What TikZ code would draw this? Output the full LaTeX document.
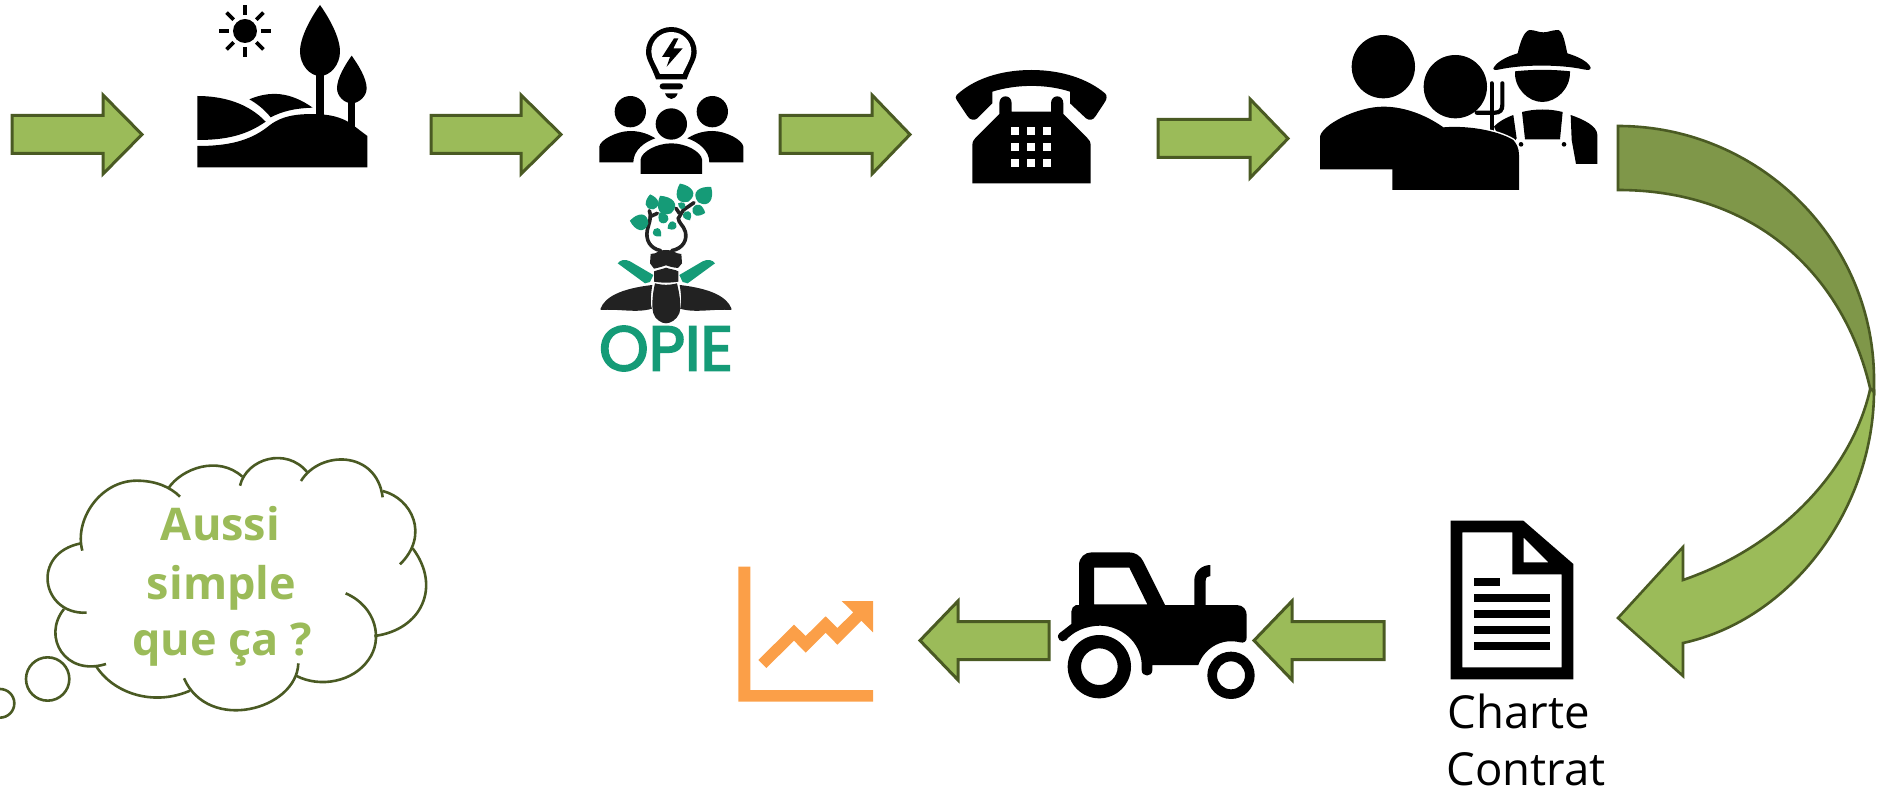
\documentclass[tikz,border=0pt]{standalone}
\usepackage{fontspec}
\setmainfont{Open Sans}
\newfontfamily\opiefont[RawFeature={embolden=3}]{Poppins}
\definecolor{agreen}{HTML}{9BBB59}
\definecolor{adark}{HTML}{7F9749}
\definecolor{aline}{HTML}{4A5A23}
\definecolor{opiegreen}{HTML}{159B77}
\definecolor{beetle}{HTML}{222222}
\definecolor{chartorange}{HTML}{FB9F48}
\tikzset{
  zoomed/.style={shift={#1},x=.33333pt,y=-.33333pt},
  blockarrow/.style={fill=agreen,draw=aline,line width=3pt,line join=miter},
  cloudline/.style={draw=aline,line width=2.6pt},
  cloudtext/.style={text=agreen,font=\bfseries\fontsize{45}{45}\selectfont,anchor=base},
  captiontext/.style={text=black,font=\fontsize{45.5}{45.5}\selectfont,anchor=base},
  ink/.style={fill=black},
  leaffill/.style={fill=opiegreen},
  beetlefill/.style={fill=beetle},
  antler/.style={draw=beetle,line width=3.6pt,line cap=round}
}
\newcommand{\rblock}[4]{\draw[blockarrow] (#1,#4-19) -- (#2,#4-19) -- (#2,#4-39.5) -- (#3,#4) -- (#2,#4+39.5) -- (#2,#4+19) -- (#1,#4+19) -- cycle;}
\newcommand{\myleaf}[4]{\fill[leaffill,shift={(#1,#2)},rotate=#3,x=#4*.33333pt,y=#4*.33333pt] (0,0) .. controls (.12,-.62) and (.65,-.5) .. (1,0) .. controls (.65,.5) and (.12,.62) .. (0,0) -- cycle;}
\begin{document}
\begin{tikzpicture}[x=1pt,y=-1pt]
\useasboundingbox (0,0) rectangle (1886,791);
\clip (0,0) rectangle (1886,791);

% straight block arrows
\rblock{12}{103}{142}{134.5}
\rblock{431}{521}{561}{134.5}
\rblock{780}{872}{910}{134.5}
\rblock{1158}{1250}{1288}{138.5}
\rblock{1384}{1292}{1254}{640.5}
\rblock{1049}{958}{920}{640.5}

% big curved arrow
\draw[blockarrow,line width=2.6pt] (1871,385) .. controls (1855,465) and (1785,545) .. (1683,580) -- (1683,547) -- (1618,618) -- (1683,676) -- (1683,643) .. controls (1790,620) and (1874,510) .. (1874,390) -- cycle;
\draw[blockarrow,fill=adark,line width=2.6pt] (1618,126) .. controls (1759,126) and (1874,240) .. (1874,380) -- (1874,392) -- (1870,388) .. controls (1845,280) and (1760,190) .. (1618,190) -- cycle;

% landscape
\begin{scope}[zoomed={(0,0)}]
\fill[ink] (735,93) circle[radius=36];
\foreach \a in {0,45,...,315}{\draw[black,line width=3.7pt,shift={(735,93)},rotate=\a] (48,0) -- (78,0);}
\fill[ink] (960,15) .. controls (985,50) and (1020,110) .. (1020,155) .. controls (1020,195) and (990,228) .. (960,228) .. controls (930,228) and (900,195) .. (900,155) .. controls (900,110) and (935,50) .. (960,15) -- cycle;
\fill[ink] (948,220) rectangle (972,350);
\fill[ink] (1055,167) .. controls (1075,195) and (1100,235) .. (1100,265) .. controls (1100,290) and (1075,310) .. (1055,310) .. controls (1035,310) and (1011,290) .. (1011,265) .. controls (1011,235) and (1035,195) .. (1055,167) -- cycle;
\fill[ink] (1044,300) rectangle (1066,385);
\fill[ink] (592,288) .. controls (670,288) and (745,310) .. (797,365) .. controls (740,405) and (680,420) .. (592,420) -- cycle;
\fill[ink] (748,298) .. controls (810,272) and (870,275) .. (938,323) .. controls (880,325) and (845,335) .. (812,352) .. controls (795,330) and (770,310) .. (748,298) -- cycle;
\fill[ink] (592,438) .. controls (680,438) and (750,425) .. (810,375) .. controls (850,345) and (900,340) .. (960,343) .. controls (1000,345) and (1035,355) .. (1065,380) -- (1102,408) -- (1102,502) -- (592,502) -- cycle;
\end{scope}

% people with bulb
\begin{scope}[zoomed={(570,0)}]
\fill[ink] (304,81) .. controls (345,81) and (380,115) .. (380,155) .. controls (380,180) and (365,195) .. (350,238) -- (258,238) .. controls (243,195) and (228,180) .. (228,155) .. controls (228,115) and (263,81) .. (304,81) -- cycle;
\fill[white] (304,96) .. controls (337,96) and (364,122) .. (364,155) .. controls (364,175) and (350,195) .. (338,222) -- (270,222) .. controls (258,195) and (244,175) .. (244,155) .. controls (244,122) and (271,96) .. (304,96) -- cycle;
\fill[ink] (312,115) -- (276,171) -- (300,171) -- (290,200) -- (338,145) -- (310,145) -- (325,115) -- cycle;
\fill[ink,rounded corners=3pt] (269,250) rectangle (339,268);
\fill[ink] (285,280) -- (323,280) .. controls (320,290) and (312,297) .. (304,297) .. controls (296,297) and (288,290) .. (285,280) -- cycle;
\fill[ink] (181,335) circle[radius=47];
\fill[ink] (427,335) circle[radius=47];
\fill[ink] (88,487) -- (88,440) .. controls (90,420) and (140,393) .. (181,393) .. controls (215,393) and (240,405) .. (256,415) .. controls (225,425) and (190,450) .. (190,487) -- cycle;
\fill[ink] (520,487) -- (520,440) .. controls (518,420) and (468,393) .. (427,393) .. controls (393,393) and (368,405) .. (352,415) .. controls (383,425) and (418,450) .. (418,487) -- cycle;
\fill[ink] (304,372) circle[radius=47];
\fill[ink] (212,522) -- (212,478) .. controls (215,455) and (260,430) .. (304,430) .. controls (348,430) and (393,455) .. (396,478) -- (396,522) -- cycle;

% OPIE beetle
\fill[beetlefill] (92,925) .. controls (105,892) and (150,866) .. (247,855) .. controls (242,885) and (240,915) .. (246,926) .. controls (200,940) and (150,926) .. (92,930) -- cycle;
\fill[beetlefill] (484,925) .. controls (471,892) and (426,866) .. (329,855) .. controls (334,885) and (336,915) .. (330,926) .. controls (376,940) and (426,926) .. (484,930) -- cycle;
\fill[beetlefill] (255,850) .. controls (280,856) and (296,856) .. (321,850) .. controls (328,880) and (335,915) .. (328,940) .. controls (320,960) and (300,970) .. (288,970) .. controls (276,970) and (256,960) .. (250,940) .. controls (244,915) and (248,880) .. (255,850) -- cycle;
\fill[beetlefill] (252,814) .. controls (270,808) and (275,808) .. (288,803) .. controls (300,808) and (315,808) .. (325,814) -- (325,845) .. controls (300,849) and (275,849) .. (252,845) -- cycle;
\fill[beetlefill] (242,762) .. controls (262,762) and (268,748) .. (288,750) .. controls (308,748) and (316,762) .. (334,762) -- (336,790) -- (324,804) .. controls (305,802) and (300,800) .. (288,796) .. controls (276,800) and (270,802) .. (252,806) -- (240,790) -- cycle;
\draw[antler] (272,752) .. controls (240,745) and (226,720) .. (232,690) .. controls (236,670) and (246,655) .. (238,632);
\draw[antler] (240,650) -- (262,640);
\draw[antler] (305,752) .. controls (340,745) and (352,720) .. (346,695) .. controls (340,675) and (326,670) .. (325,655) -- (340,630) -- (372,608);
\draw[antler] (328,640) -- (318,625);
\fill[leaffill] (143,790) .. controls (150,780) and (165,776) .. (180,784) -- (250,825) -- (240,846) -- (225,850) -- cycle;
\fill[leaffill] (435,790) .. controls (428,780) and (413,776) .. (398,784) -- (328,825) -- (338,846) -- (353,850) -- cycle;
\myleaf{235}{670}{172}{56}
\myleaf{250}{628}{102}{46}
\myleaf{303}{640}{122}{62}
\myleaf{355}{605}{115}{60}
\myleaf{385}{607}{50}{60}
\myleaf{368}{625}{-20}{40}
\myleaf{288}{668}{122}{36}
\myleaf{345}{635}{-60}{30}
\myleaf{318}{670}{212}{30}
\myleaf{252}{688}{-45}{30}
\myleaf{345}{622}{150}{24}
\end{scope}
\node[anchor=base,inner sep=0,text=opiegreen,font=\opiefont\fontsize{63}{63}\selectfont] (opie) at (666,370.5) {OPIE};

% telephone
\begin{scope}[zoomed={(930,40)}]
\fill[ink] (80,165) .. controls (130,118) and (210,90) .. (304,90) .. controls (398,90) and (475,118) .. (525,160) .. controls (532,165) and (530,178) .. (526,184) -- (497,228) .. controls (490,240) and (478,243) .. (468,235) -- (420,190) -- (420,155) .. controls (350,132) and (260,132) .. (187,155) -- (187,190) -- (142,235) .. controls (132,243) and (120,240) .. (112,228) -- (80,180) .. controls (76,175) and (76,170) .. (80,165) -- cycle;
\fill[ink] (127,430) -- (127,318) .. controls (127,305) and (130,300) .. (137,293) -- (208,222) -- (208,190) .. controls (208,162) and (245,162) .. (245,190) -- (245,215) -- (363,215) -- (363,190) .. controls (363,162) and (400,162) .. (400,190) -- (400,222) -- (471,293) .. controls (478,300) and (482,305) .. (482,318) -- (482,430) -- cycle;
\foreach \kx in {256,304,351}{\foreach \ky in {274,322,370}{\fill[white] (\kx-12,\ky-12) rectangle (\kx+12,\ky+12);}}
\end{scope}

% people with farmer
\begin{scope}[zoomed={(1300,0)}]
% farmer
\fill[ink] (580,205) .. controls (590,185) and (620,170) .. (653,160) .. controls (660,130) and (670,95) .. (688,90) .. controls (705,90) and (715,97) .. (730,97) .. controls (745,97) and (755,90) .. (775,90) .. controls (790,95) and (795,130) .. (802,160) .. controls (835,170) and (865,185) .. (872,203) .. controls (872,212) and (862,210) .. (850,208) .. controls (780,193) and (670,193) .. (600,208) .. controls (590,210) and (580,212) .. (580,205) -- cycle;
\fill[ink] (645,214) .. controls (700,208) and (755,208) .. (810,214) .. controls (812,265) and (770,306) .. (727,306) .. controls (685,306) and (642,265) .. (645,214) -- cycle;
\fill[ink] (666,336) .. controls (705,326) and (750,326) .. (788,336) -- (780,418) -- (675,418) -- cycle;
\fill[ink] (582,380) .. controls (595,365) and (620,352) .. (640,345) -- (650,415) -- (637,432) -- (600,420) -- cycle;
\fill[ink] (812,345) .. controls (850,358) and (892,378) .. (892,405) -- (892,492) -- (828,492) -- (815,420) -- cycle;
\fill[ink] (663,433) circle[radius=7];
\fill[ink] (792,433) circle[radius=7];
% fork
\draw[black,line width=4.2pt,line cap=round] (575,250) -- (575,400);
\draw[black,line width=4.2pt,line cap=round] (530,338) -- (585,338) .. controls (600,338) and (607,330) .. (607,315) -- (607,250);
% person right
\fill[ink] (466,260) circle[radius=95];
\draw[ink,draw=white,line width=3pt] (430,382) .. controls (500,376) and (590,390) .. (640,420) .. controls (650,432) and (657,445) .. (657,465) -- (657,570);
\fill[ink] (277,570) -- (277,480) -- (430,382) .. controls (500,376) and (590,390) .. (640,420) .. controls (650,432) and (657,445) .. (657,465) -- (657,570) -- cycle;
% person left
\fill[ink] (250,200) circle[radius=95];
\fill[ink] (60,508) -- (60,410) .. controls (65,375) and (170,320) .. (250,320) .. controls (320,320) and (385,350) .. (430,382) -- (430,508) -- cycle;
\end{scope}

% document
\begin{scope}[zoomed={(1420,460)}]
\fill[ink,even odd rule] (92,182) -- (310,182) -- (460,312) -- (460,658) -- (92,658) -- cycle (127,217) -- (277,217) -- (277,343) -- (425,343) -- (425,622) -- (127,622) -- cycle (311,233) -- (385,307) -- (311,307) -- cycle;
\fill[ink] (162,354) rectangle (240,378);
\foreach \ly in {402,450,498,546}{\fill[ink] (162,\ly) rectangle (390,\ly+24);}
\end{scope}
\node[captiontext,inner sep=0] (charte) at (1519,728) {Charte};
\node[captiontext,inner sep=0] (contrat) at (1526,785) {Contrat};

% tractor
\begin{scope}[zoomed={(1040,530)}]
\fill[ink,even odd rule] (117,235) -- (117,105) .. controls (117,82) and (135,67) .. (155,67) -- (265,67) .. controls (285,67) and (300,75) .. (310,95) -- (380,235) -- cycle (162,113) -- (268,113) -- (322,223) -- (162,223) -- cycle;
\fill[ink] (463,230) -- (463,150) .. controls (463,125) and (485,105) .. (511,105) -- (511,138) .. controls (503,138) and (497,142) .. (497,152) -- (497,230) -- cycle;
\fill[ink] (108,225) -- (590,225) .. controls (610,225) and (620,240) .. (620,255) -- (620,322) .. controls (620,335) and (612,340) .. (600,337) .. controls (540,322) and (490,360) .. (475,405) -- (337,405) -- (337,420) .. controls (337,442) and (305,442) .. (305,420) -- (305,400) .. controls (300,335) and (245,288) .. (180,287) .. controls (135,288) and (100,305) .. (78,330) .. controls (65,342) and (45,325) .. (58,310) -- (94,282) -- (94,245) .. controls (94,235) and (100,228) .. (108,225) -- cycle;
\fill[ink,even odd rule] (178,410) circle[radius=95] (178,410) circle[radius=55];
\fill[ink,even odd rule] (573,436) circle[radius=71] (573,436) circle[radius=42];
\end{scope}

% chart
\begin{scope}[zoomed={(720,550)}]
\fill[chartorange] (55,50) -- (91,50) -- (91,420) -- (459,420) -- (459,455) -- (55,455) -- cycle;
\fill[chartorange] (115,330) -- (222,224) -- (257,258) -- (317,199) -- (352,234) -- (400,187) -- (365,153) -- (459,153) -- (459,247) -- (424,212) -- (352,284) -- (317,248) -- (257,308) -- (222,272) -- (139,354) -- cycle;
\end{scope}

% thought cloud
\begin{scope}[zoomed={(0,440)}]
\draw[cloudline] (247,332) .. controls (222,240) and (300,122) .. (410,122) .. controls (465,122) and (510,140) .. (540,170);
\draw[cloudline] (505,145) .. controls (545,85) and (655,45) .. (727,110);
\draw[cloudline] (720,137) .. controls (740,55) and (860,20) .. (922,97);
\draw[cloudline] (903,123) .. controls (960,30) and (1130,30) .. (1148,172);
\draw[cloudline] (1148,153) .. controls (1235,175) and (1290,285) .. (1200,373);
\draw[cloudline] (1238,325) .. controls (1325,440) and (1265,570) .. (1123,588);
\draw[cloudline] (1037,460) .. controls (1130,500) and (1150,600) .. (1105,660) .. controls (1060,725) and (960,745) .. (888,707);
\draw[cloudline] (895,670) .. controls (890,810) and (625,880) .. (552,715);
\draw[cloudline] (570,752) .. controls (460,800) and (340,760) .. (288,678);
\draw[cloudline] (318,672) .. controls (195,710) and (125,590) .. (192,507);
\draw[cloudline] (260,518) .. controls (125,525) and (90,340) .. (243,310);
\draw[cloudline] (143,717) circle[radius=65];
\draw[cloudline] (0,790) circle[radius=43];
\end{scope}
\node[cloudtext,inner sep=0] (aussi) at (220.5,540) {Aussi};
\node[cloudtext,inner sep=0] (simple) at (221.5,599) {simple};
\node[cloudtext,inner sep=0] (que) at (222,655) {que ça ?};
\end{tikzpicture}
\end{document}
